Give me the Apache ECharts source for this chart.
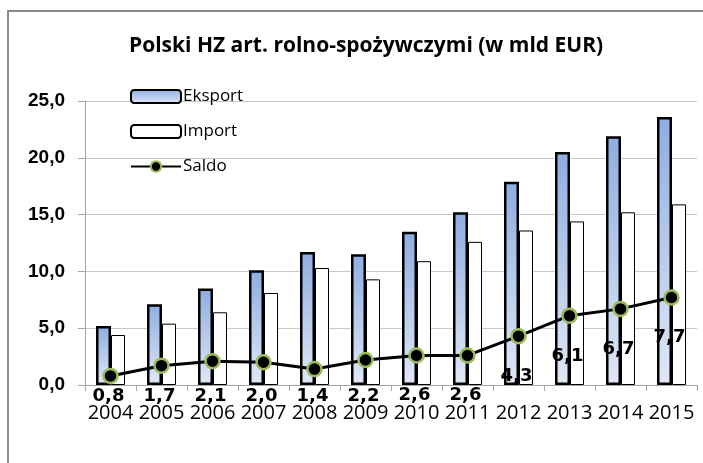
<!DOCTYPE html>
<html>
<head>
<meta charset="utf-8">
<script src="https://cdn.jsdelivr.net/npm/echarts@6/dist/echarts.min.js"></script>
<style>
  html, body { margin: 0; padding: 0; background: #fff; }
  #chart { width: 703px; height: 463px; }
</style>
</head>
<body>
<div id="chart"></div>
<script>
const years = ['2004', '2005', '2006', '2007', '2008', '2009', '2010', '2011', '2012', '2013', '2014', '2015']
const eksport = [5.2, 7.1, 8.5, 10.1, 11.7, 11.5, 13.5, 15.2, 17.9, 20.5, 21.9, 23.6]
const importData = [4.4, 5.4, 6.4, 8.1, 10.3, 9.3, 10.9, 12.6, 13.6, 14.4, 15.2, 15.9]
const saldo = [0.8, 1.7, 2.1, 2.0, 1.4, 2.2, 2.6, 2.6, 4.3, 6.1, 6.7, 7.7]

const fmt = v => Number(v).toFixed(1).replace('.', ',')

const myChart = echarts.init(document.getElementById('chart'))

let option = {
    backgroundColor: '#fff',
    animation: false,
    title: {
        text: 'Polski HZ art. rolno-spożywczymi (w mld EUR)',
        left: 124,
        top: 31,
        textStyle: { fontFamily: 'Open Sans', fontWeight: 'bold', fontSize: 21, color: '#000' }
    },
    graphic: [{
        type: 'rect',
        shape: { x: 8, y: 11, width: 720, height: 480 },
        style: { fill: 'none', stroke: '#8c8c8c', lineWidth: 2 },
        silent: true
    }],
    legend: {
        orient: 'vertical',
        left: 125,
        top: 83,
        itemWidth: 50,
        itemHeight: 13,
        itemGap: 18,
        textStyle: { fontFamily: 'Open Sans', fontSize: 17, color: '#000', padding: [0, 0, 0, -3] },
        data: ['Eksport', 'Import', 'Saldo']
    },
    grid: { left: 85, right: 6, top: 101, bottom: 78 },
    xAxis: {
        type: 'category',
        data: years,
        axisLine: { lineStyle: { color: '#a6a6a6', width: 1 } },
        axisTick: { show: true, length: 6, lineStyle: { color: '#a6a6a6' } },
        axisLabel: { interval: 0, margin: 18, fontFamily: 'Open Sans', fontSize: 20, color: '#000' }
    },
    yAxis: {
        type: 'value',
        min: 0,
        max: 25,
        interval: 5,
        axisLine: { show: true, lineStyle: { color: '#a6a6a6' } },
        axisTick: { show: true, length: 7, lineStyle: { color: '#a6a6a6' } },
        splitLine: { lineStyle: { color: '#c8c8c8', width: 1 } },
        axisLabel: {
            margin: 20,
            fontFamily: 'Liberation Sans',
            fontWeight: 'bold',
            fontSize: 19,
            color: '#000',
            formatter: fmt
        }
    },
    series: [
        {
            name: 'Eksport',
            type: 'bar',
            data: eksport,
            barWidth: 15,
            barGap: '0%',
            itemStyle: {
                color: new echarts.graphic.LinearGradient(0, 0, 0, 1, [
                    { offset: 0, color: '#8eade1' },
                    { offset: 1, color: '#e1e8f6' }
                ]),
                borderColor: '#000',
                borderWidth: 2.5
            }
        },
        {
            name: 'Import',
            type: 'bar',
            data: importData,
            barWidth: 14,
            itemStyle: { color: '#fff', borderColor: '#000', borderWidth: 1 }
        },
        {
            name: 'Saldo',
            type: 'line',
            data: saldo,
            symbol: 'circle',
            symbolSize: 14,
            lineStyle: { color: '#000', width: 3 },
            itemStyle: { color: '#000', borderColor: '#9bbb59', borderWidth: 2.5 },
            label: {
                show: true,
                position: 'bottom',
                distance: 23,
                fontFamily: 'DejaVu Sans',
                fontWeight: 'bold',
                fontSize: 18,
                color: '#000',
                formatter: p => fmt(p.value)
            },
            labelLayout: function (params) {
                const r = params.labelRect
                const cy = Math.min(r.y + r.height / 2, 396)
                return { x: r.x + r.width / 2 - 2, y: cy, align: 'center', verticalAlign: 'middle' }
            },
            z: 5
        }
    ]
}

myChart.setOption(option)
</script>
</body>
</html>
